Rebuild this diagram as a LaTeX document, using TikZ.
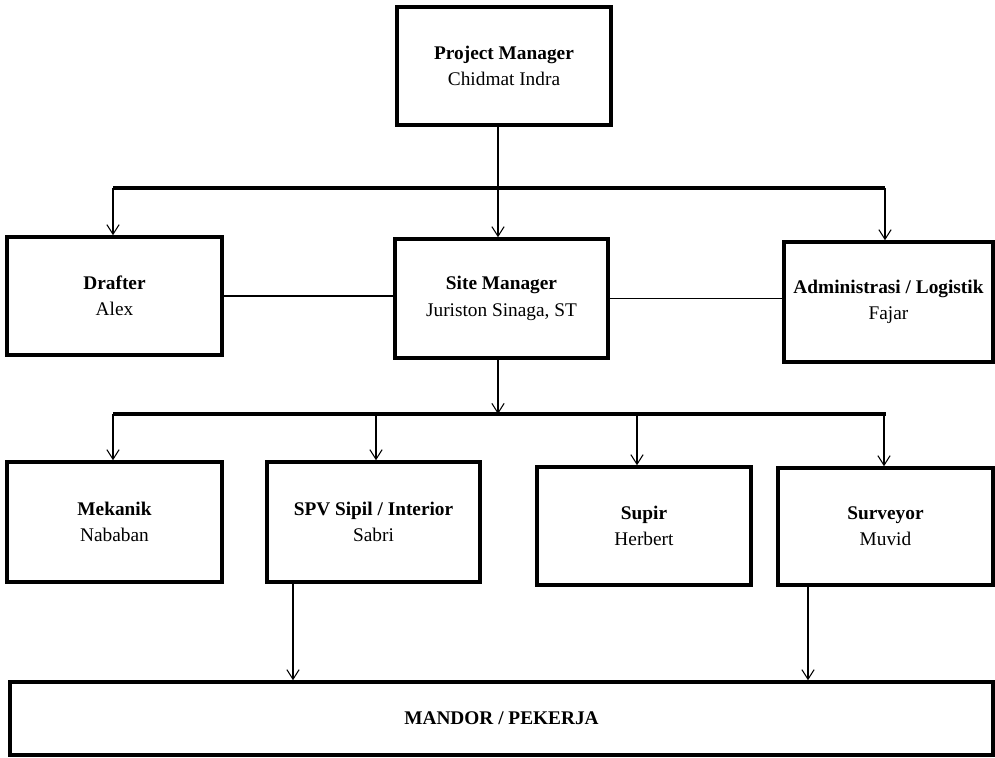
\documentclass[tikz,border=0pt]{standalone}
\usepackage{fontspec}
\setmainfont{Liberation Serif}
\usetikzlibrary{arrows.meta}
\begin{document}
\begin{tikzpicture}[x=0.02cm,y=-0.02cm,
  box/.style={draw, line width=2pt, rectangle, align=center, font=\fontsize{11}{15}\selectfont, inner sep=0pt},
  conn/.style={line width=0.6pt},
  bar/.style={line width=2.2pt},
  arr/.style={line width=0.6pt, -{Straight Barb[length=5.5pt,width=7pt,line width=0.6pt]}}]
\useasboundingbox (0,0) rectangle (995,758);
\node[box, minimum width=214*0.02cm, minimum height=118*0.02cm] (pm) at (504,66) {\textbf{Project Manager}\\Chidmat Indra};
\node[box, minimum width=215*0.02cm, minimum height=118*0.02cm] (drafter) at (114.5,296) {\textbf{Drafter}\\Alex};
\node[box, minimum width=213*0.02cm, minimum height=119*0.02cm] (sm) at (501.5,298.5) {\textbf{Site Manager}\\Juriston Sinaga, ST};
\node[box, minimum width=209*0.02cm, minimum height=120*0.02cm] (admin) at (888.5,302) {\textbf{Administrasi / Logistik}\\Fajar};
\node[box, minimum width=215*0.02cm, minimum height=120*0.02cm] (mek) at (114.5,522) {\textbf{Mekanik}\\Nababan};
\node[box, minimum width=213*0.02cm, minimum height=120*0.02cm] (spv) at (373.5,522) {\textbf{SPV Sipil / Interior}\\Sabri};
\node[box, minimum width=214*0.02cm, minimum height=118*0.02cm] (supir) at (644,526) {\textbf{Supir}\\Herbert};
\node[box, minimum width=215*0.02cm, minimum height=117*0.02cm] (surv) at (885.5,526.5) {\textbf{Surveyor}\\Muvid};
\node[box, minimum width=983*0.02cm, minimum height=73*0.02cm] (mandor) at (501.5,718.5) {\textbf{MANDOR / PEKERJA}};
% first bar
\coordinate (b1L) at (113,188);
\coordinate (b1R) at (885,188);
\coordinate (c1) at (498,188);
\draw[bar] (b1L) -- (b1R);
\draw[conn] (pm.south -| c1) -- (c1);
\draw[arr] (b1L) -- (drafter.north -| b1L);
\draw[arr] (c1) -- (sm.north -| c1);
\draw[arr] (b1R) -- (admin.north -| b1R);
% side links
\draw[conn] (drafter.east) -- (drafter.east -| sm.west);
\draw[conn] (sm.east) -- (sm.east -| admin.west);
% second bar
\coordinate (b2L) at (113,414);
\coordinate (b2R) at (886,414);
\coordinate (c2) at (498,414);
\coordinate (k2) at (376,414);
\coordinate (s2) at (637,414);
\coordinate (v2) at (884,414);
\draw[bar] (b2L) -- (b2R);
\draw[arr] (sm.south -| c2) -- (c2);
\draw[arr] (b2L) -- (mek.north -| b2L);
\draw[arr] (k2) -- (spv.north -| k2);
\draw[arr] (s2) -- (supir.north -| s2);
\draw[arr] (v2) -- (surv.north -| v2);
% to mandor
\coordinate (m1) at (293,600);
\coordinate (m2) at (808,600);
\draw[arr] (spv.south -| m1) -- (mandor.north -| m1);
\draw[arr] (surv.south -| m2) -- (mandor.north -| m2);
\end{tikzpicture}
\end{document}
